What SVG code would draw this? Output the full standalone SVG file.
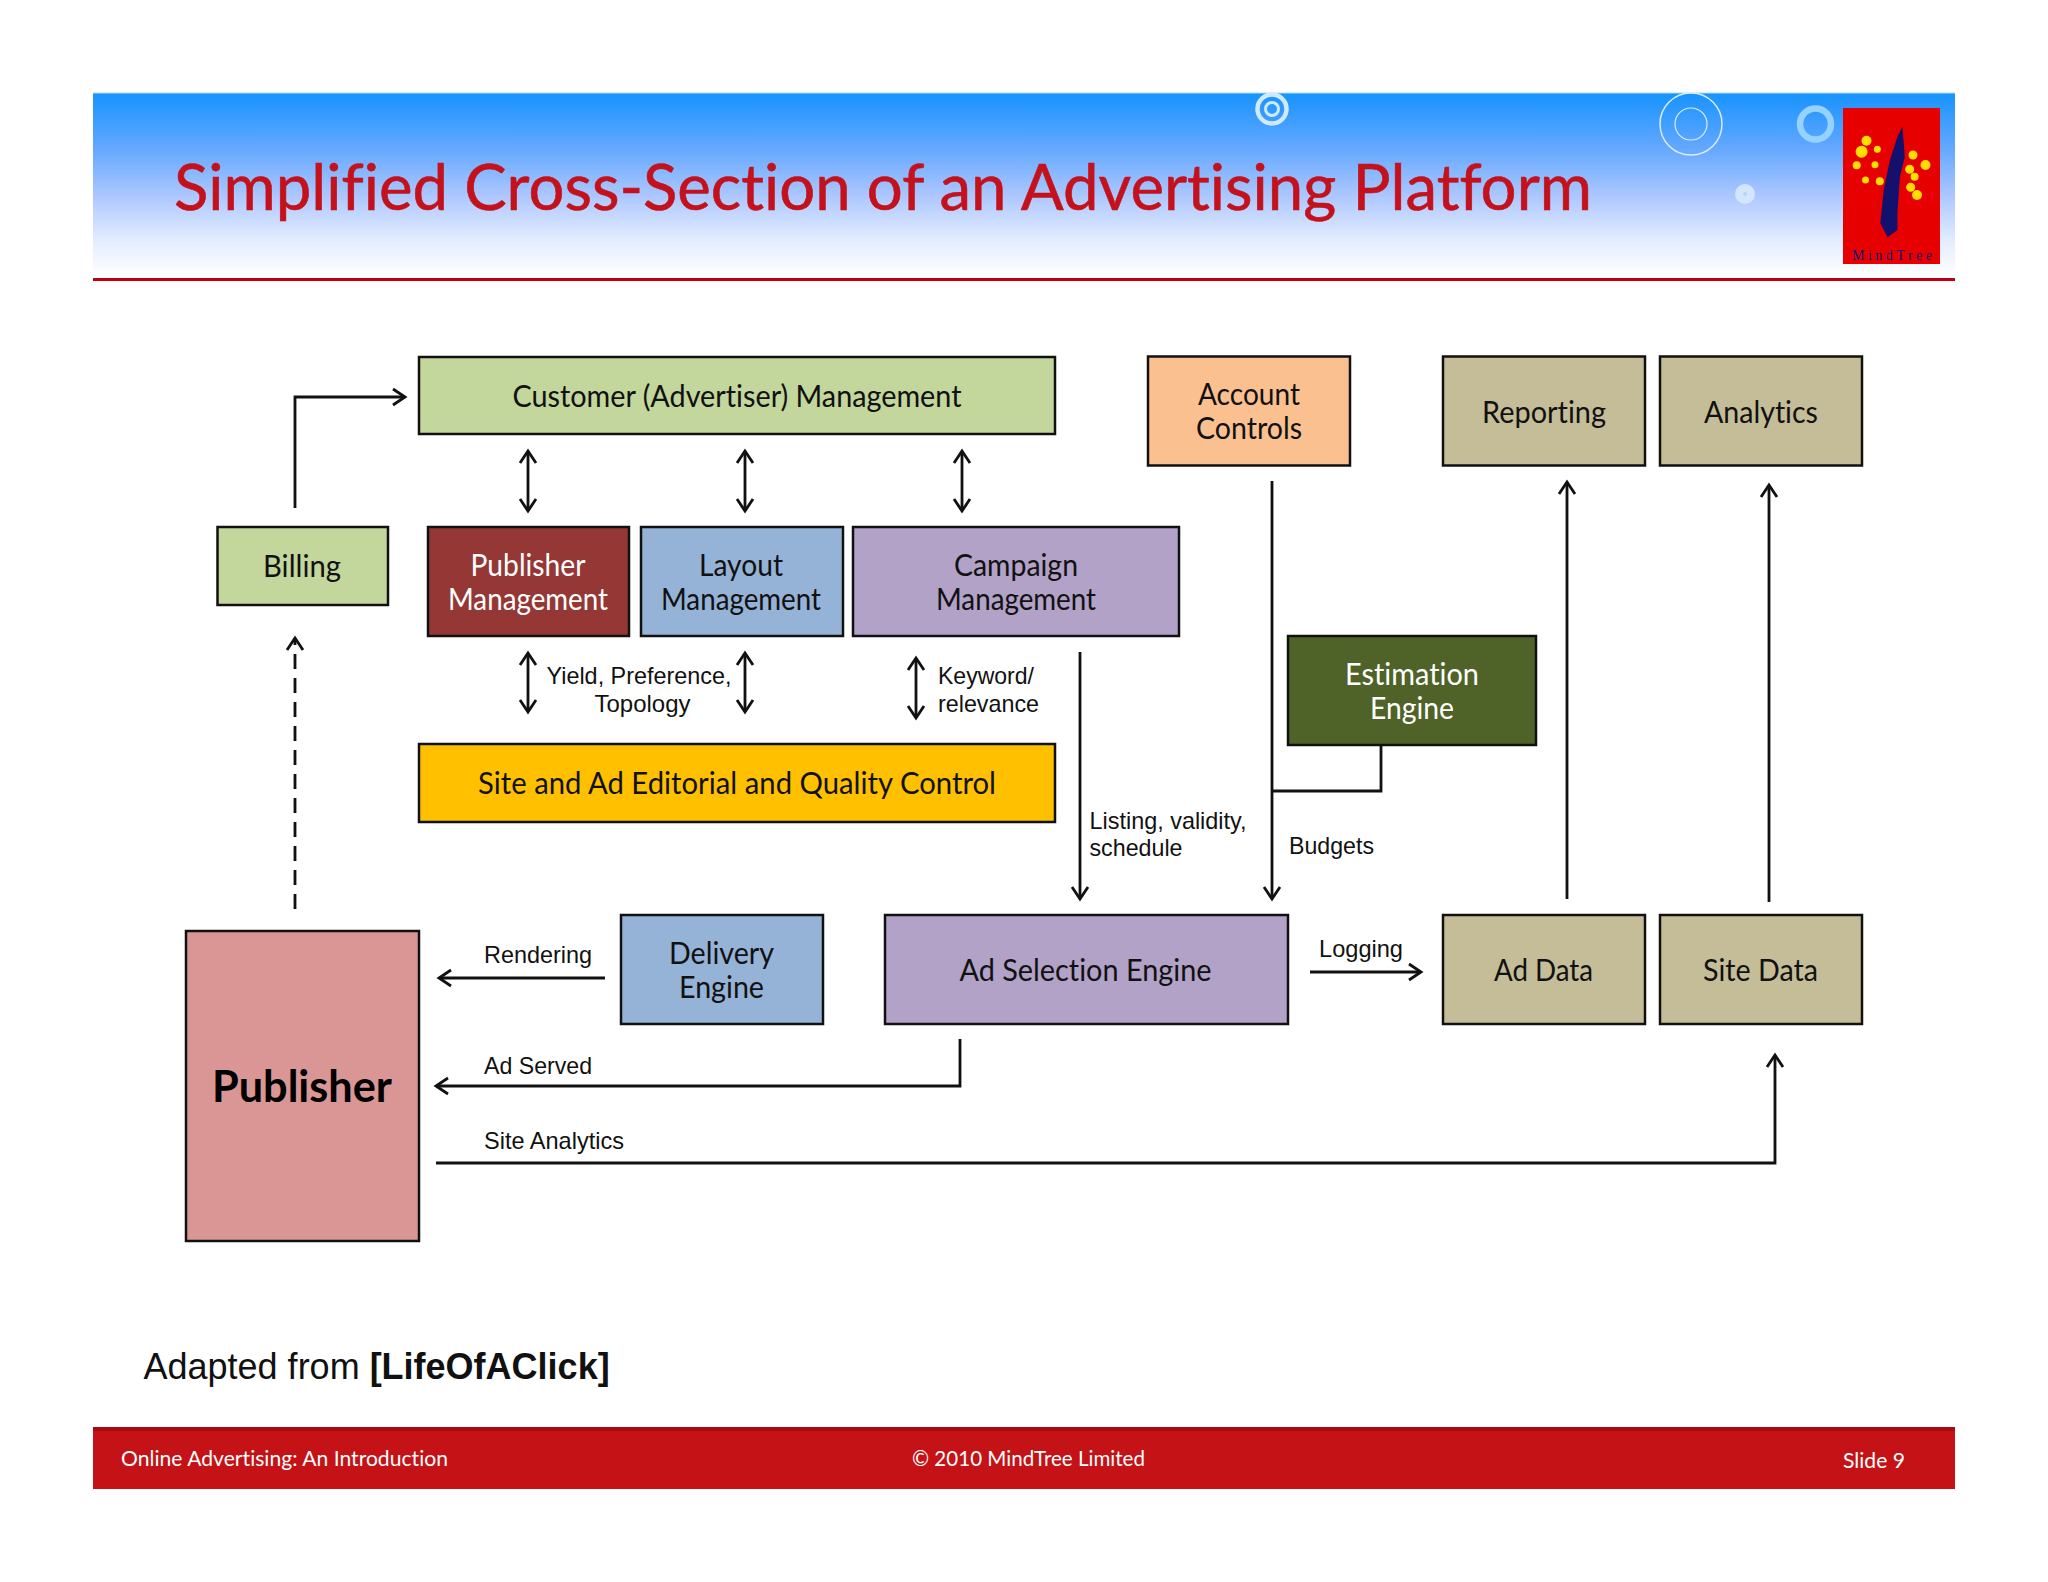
<svg xmlns="http://www.w3.org/2000/svg" width="2048" height="1582" viewBox="0 0 2048 1582">
<style>
text{font-variant-ligatures:none}
.b{stroke:#111;stroke-width:2.5}
.n{font-family:"Lato","Noto Sans",sans-serif;font-size:31px;fill:#111;text-anchor:middle}
.w{fill:#fff}
.l{font-family:"Liberation Sans",Arial,sans-serif;font-size:24px;fill:#111}
.c{fill:none;stroke:#111;stroke-width:2.8}
.f{font-family:"Lato","Noto Sans",sans-serif;font-size:21px;fill:#fff}
.y{fill:#ffdd00}
</style>
<defs>
<linearGradient id="hg" x1="0" y1="0" x2="0" y2="1">
<stop offset="0" stop-color="#1793fe"/>
<stop offset="0.3" stop-color="#64a8ff"/>
<stop offset="0.55" stop-color="#abc6ff"/>
<stop offset="0.8" stop-color="#e4edff"/>
<stop offset="1" stop-color="#ffffff"/>
</linearGradient>
<marker id="a" markerUnits="userSpaceOnUse" markerWidth="20" markerHeight="22" refX="15" refY="11" orient="auto-start-reverse">
<path d="M3 3L15 11L3 19" fill="none" stroke="#111" stroke-width="2.8"/>
</marker>
</defs>
<rect width="2048" height="1582" fill="#fff"/>
<g id="header">
<rect x="93" y="93" width="1862" height="185" fill="url(#hg)"/>
<rect x="93" y="92.5" width="1862" height="1" fill="#a0e4ff"/>
<rect x="93" y="278" width="1862" height="3" fill="#c00010"/>
<text x="174" y="210" font-family="Lato,'Noto Sans',sans-serif" font-size="64" fill="#c4121c" stroke="#c4121c" stroke-width="0.6" textLength="1418" lengthAdjust="spacingAndGlyphs">Simplified Cross-Section of an Advertising Platform</text>
<circle cx="1272" cy="109" r="14.5" fill="none" stroke="#cfeaff" stroke-width="4.5"/>
<circle cx="1272" cy="109" r="6.5" fill="none" stroke="#cfeaff" stroke-width="3"/>
<circle cx="1691" cy="124" r="31" fill="none" stroke="#dcecff" stroke-width="1.5"/>
<circle cx="1691" cy="124" r="16" fill="none" stroke="#dcecff" stroke-width="1.2"/>
<circle cx="1815.5" cy="124" r="15.5" fill="none" stroke="#96d2ff" stroke-width="6.5"/>
<circle cx="1745" cy="194" r="10" fill="#d4e6ff"/>
<circle cx="1745" cy="194" r="2" fill="#b8d4f5"/>
<rect x="1843" y="108" width="97" height="156" fill="#e60000"/>
<path d="M1902.4 126.700L1904.800 156.700L1899.900 176.700L1897.400 213.300L1897.400 230L1887.600 237.300L1880.300 223.300L1883.700 190L1890 160L1897.400 136.700Z" fill="#14106e"/>
<circle class="y" cx="1866.500" cy="140.700" r="5"/><circle class="y" cx="1861.600" cy="151.700" r="6"/><circle class="y" cx="1877.300" cy="149.300" r="3.500"/><circle class="y" cx="1913" cy="155" r="4.500"/><circle class="y" cx="1856.700" cy="165.300" r="4"/><circle class="y" cx="1875" cy="164.700" r="3.500"/><circle class="y" cx="1925.500" cy="165" r="5"/><circle class="y" cx="1909.700" cy="169.300" r="4.500"/><circle class="y" cx="1865.500" cy="180" r="3.500"/><circle class="y" cx="1879.800" cy="181.300" r="4"/><circle class="y" cx="1914.600" cy="176.700" r="4"/><circle class="y" cx="1910.700" cy="187.300" r="4.500"/><circle class="y" cx="1917" cy="195" r="5"/>
<text x="1852" y="260" font-family="'Liberation Serif',serif" font-size="14" fill="#14106e" textLength="80">MindTree</text>
</g>
<g id="connectors">
<path class="c" d="M295 508V397H405" marker-end="url(#a)"/>
<path class="c" d="M295 909V638" stroke-dasharray="15 9" marker-end="url(#a)"/>
<path class="c" d="M528 451V511" marker-start="url(#a)" marker-end="url(#a)"/>
<path class="c" d="M745 451V511" marker-start="url(#a)" marker-end="url(#a)"/>
<path class="c" d="M962 451V511" marker-start="url(#a)" marker-end="url(#a)"/>
<path class="c" d="M528 653V712" marker-start="url(#a)" marker-end="url(#a)"/>
<path class="c" d="M745 653V712" marker-start="url(#a)" marker-end="url(#a)"/>
<path class="c" d="M916 658V718" marker-start="url(#a)" marker-end="url(#a)"/>
<path class="c" d="M1080 652V899" marker-end="url(#a)"/>
<path class="c" d="M1272 481V899" marker-end="url(#a)"/>
<path class="c" d="M1381 745V791H1272"/>
<path class="c" d="M1567 899V482" marker-end="url(#a)"/>
<path class="c" d="M1769 902V485" marker-end="url(#a)"/>
<path class="c" d="M605 978H439" marker-end="url(#a)"/>
<path class="c" d="M960 1039V1086H436" marker-end="url(#a)"/>
<path class="c" d="M436 1163H1775V1055" marker-end="url(#a)"/>
<path class="c" d="M1310 972H1421" marker-end="url(#a)"/>
</g>
<g id="customer-management"><rect class="b" x="419" y="357" width="636" height="77" fill="#c3d69b"/><text class="n" x="737" y="407" textLength="449" lengthAdjust="spacingAndGlyphs">Customer (Advertiser) Management</text></g>
<g id="billing"><rect class="b" x="217.500" y="527" width="170.500" height="78" fill="#c3d69b"/><text class="n" x="302" y="577" textLength="78" lengthAdjust="spacingAndGlyphs">Billing</text></g>
<g id="publisher-management"><rect class="b" x="428" y="527" width="201" height="109" fill="#953735"/><text class="n w" x="528" y="576" textLength="115" lengthAdjust="spacingAndGlyphs">Publisher</text><text class="n w" x="528" y="610" textLength="160" lengthAdjust="spacingAndGlyphs">Management</text></g>
<g id="layout-management"><rect class="b" x="641" y="527" width="202" height="109" fill="#95b3d7"/><text class="n" x="741" y="576" textLength="84" lengthAdjust="spacingAndGlyphs">Layout</text><text class="n" x="741" y="610" textLength="160" lengthAdjust="spacingAndGlyphs">Management</text></g>
<g id="campaign-management"><rect class="b" x="853" y="527" width="326" height="109" fill="#b2a2c7"/><text class="n" x="1016" y="576" textLength="124" lengthAdjust="spacingAndGlyphs">Campaign</text><text class="n" x="1016" y="610" textLength="160" lengthAdjust="spacingAndGlyphs">Management</text></g>
<g id="editorial"><rect class="b" x="419" y="744" width="636" height="78" fill="#ffc000"/><text class="n" x="737" y="794" textLength="518" lengthAdjust="spacingAndGlyphs">Site and Ad Editorial and Quality Control</text></g>
<g id="account-controls"><rect class="b" x="1148" y="356.500" width="202" height="109" fill="#fac090"/><text class="n" x="1249" y="405" textLength="102" lengthAdjust="spacingAndGlyphs">Account</text><text class="n" x="1249" y="439" textLength="106" lengthAdjust="spacingAndGlyphs">Controls</text></g>
<g id="reporting"><rect class="b" x="1443" y="356.500" width="202" height="109" fill="#c4bd97"/><text class="n" x="1544" y="423" textLength="124" lengthAdjust="spacingAndGlyphs">Reporting</text></g>
<g id="analytics"><rect class="b" x="1660" y="356.500" width="202" height="109" fill="#c4bd97"/><text class="n" x="1761" y="423" textLength="114" lengthAdjust="spacingAndGlyphs">Analytics</text></g>
<g id="estimation-engine"><rect class="b" x="1288" y="636" width="248" height="109" fill="#4f6228"/><text class="n w" x="1412" y="685" textLength="134" lengthAdjust="spacingAndGlyphs">Estimation</text><text class="n w" x="1412" y="719" textLength="84" lengthAdjust="spacingAndGlyphs">Engine</text></g>
<g id="delivery-engine"><rect class="b" x="621" y="915" width="202" height="109" fill="#95b3d7"/><text class="n" x="721.500" y="964" textLength="105" lengthAdjust="spacingAndGlyphs">Delivery</text><text class="n" x="721.500" y="998" textLength="85" lengthAdjust="spacingAndGlyphs">Engine</text></g>
<g id="ad-selection-engine"><rect class="b" x="885" y="915" width="403" height="109" fill="#b2a2c7"/><text class="n" x="1085.500" y="981" textLength="252" lengthAdjust="spacingAndGlyphs">Ad Selection Engine</text></g>
<g id="ad-data"><rect class="b" x="1443" y="915" width="202" height="109" fill="#c4bd97"/><text class="n" x="1543.500" y="981" textLength="99" lengthAdjust="spacingAndGlyphs">Ad Data</text></g>
<g id="site-data"><rect class="b" x="1660" y="915" width="202" height="109" fill="#c4bd97"/><text class="n" x="1760.500" y="981" textLength="115" lengthAdjust="spacingAndGlyphs">Site Data</text></g>
<g id="publisher"><rect class="b" x="186" y="931" width="233" height="310" fill="#d99694"/><text class="n" x="302" y="1102" font-weight="700" style="font-size:43px;fill:#000" textLength="180" lengthAdjust="spacingAndGlyphs">Publisher</text></g>
<g id="labels">
<text class="l" x="546.500" y="684" textLength="185" lengthAdjust="spacingAndGlyphs">Yield, Preference,</text>
<text class="l" x="594.500" y="712" textLength="96" lengthAdjust="spacingAndGlyphs">Topology</text>
<text class="l" x="938" y="684" textLength="96" lengthAdjust="spacingAndGlyphs">Keyword/</text>
<text class="l" x="938" y="712" textLength="101" lengthAdjust="spacingAndGlyphs">relevance</text>
<text class="l" x="1089.500" y="829" textLength="157" lengthAdjust="spacingAndGlyphs">Listing, validity,</text>
<text class="l" x="1089.500" y="856" textLength="93" lengthAdjust="spacingAndGlyphs">schedule</text>
<text class="l" x="1289" y="854" textLength="85" lengthAdjust="spacingAndGlyphs">Budgets</text>
<text class="l" x="484" y="963" textLength="108" lengthAdjust="spacingAndGlyphs">Rendering</text>
<text class="l" x="484" y="1074" textLength="108" lengthAdjust="spacingAndGlyphs">Ad Served</text>
<text class="l" x="484" y="1149" textLength="140" lengthAdjust="spacingAndGlyphs">Site Analytics</text>
<text class="l" x="1319" y="957" textLength="84" lengthAdjust="spacingAndGlyphs">Logging</text>
<text x="143.500" y="1379" font-family="'Liberation Sans',Arial,sans-serif" font-size="36" fill="#111">Adapted from <tspan font-weight="700">[LifeOfAClick]</tspan></text>
</g>
<g id="footer">
<rect x="93" y="1427" width="1862" height="62" fill="#c41216"/>
<rect x="93" y="1427" width="1862" height="4" fill="#a80a12"/>
<text class="f" x="121" y="1466" textLength="327" lengthAdjust="spacingAndGlyphs">Online Advertising: An Introduction</text>
<text class="f" x="912" y="1466" textLength="233" lengthAdjust="spacingAndGlyphs">© 2010 MindTree Limited</text>
<text class="f" x="1843" y="1468" textLength="62" lengthAdjust="spacingAndGlyphs">Slide 9</text>
</g>
</svg>
